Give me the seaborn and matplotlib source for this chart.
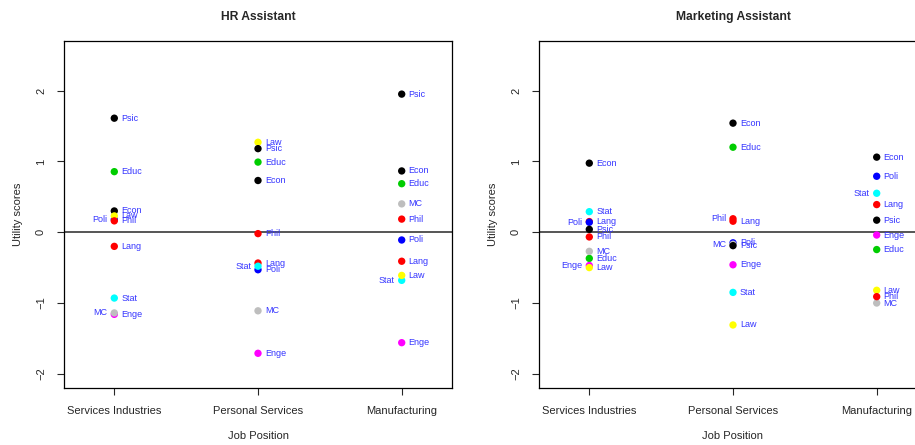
import pandas as pd
import matplotlib
matplotlib.use("Agg")
import matplotlib.pyplot as plt
import seaborn as sns

# job positions (x axis) and attributes (one point each)
jobs = ["Services Industries", "Personal Services", "Manufacturing"]
attrs = ["Econ", "Lang", "Educ", "Poli", "Stat", "Enge", "Law", "MC", "Psic", "Phil"]

# utility scores, same order as attrs
hr_services = [0.30, -0.20, 0.855, 0.18, -0.93, -1.16, 0.23, -1.14, 1.61, 0.16]
hr_personal = [0.73, -0.435, 0.99, -0.53, -0.48, -1.71, 1.27, -1.11, 1.18, -0.02]
hr_manufacturing = [0.865, -0.41, 0.685, -0.11, -0.68, -1.56, -0.61, 0.40, 1.95, 0.185]

mk_services = [0.975, 0.15, -0.37, 0.14, 0.29, -0.47, -0.50, -0.27, 0.04, -0.067]
mk_personal = [1.54, 0.155, 1.20, -0.15, -0.85, -0.46, -1.31, -0.17, -0.19, 0.19]
mk_manufacturing = [1.06, 0.39, -0.245, 0.79, 0.55, -0.04, -0.82, -1.00, 0.17, -0.91]

# R default palette, recycled
colors = ["black", "red", "#00CD00", "blue", "cyan", "magenta", "yellow", "#BEBEBE", "black", "red"]

# labels that sit on the left of their point
hr_left = {("Services Industries", "Poli"), ("Services Industries", "MC"),
           ("Personal Services", "Stat"), ("Manufacturing", "Stat")}
mk_left = {("Services Industries", "Poli"), ("Services Industries", "Enge"),
           ("Personal Services", "Phil"), ("Personal Services", "MC"),
           ("Manufacturing", "Stat")}


def make_df(cols):
    rows = []
    for job, vals in zip(jobs, cols):
        for a, v in zip(attrs, vals):
            rows.append({"job": job, "attr": a, "score": v})
    return pd.DataFrame(rows)


sns.set_style("ticks")
plt.rcParams["font.family"] = ["Liberation Sans", "DejaVu Sans"]

fig = plt.figure(figsize=(9.15, 4.45), dpi=100)
ax1 = fig.add_axes([64 / 915, 57 / 445, 388 / 915, 347 / 445])
ax2 = fig.add_axes([539 / 915, 57 / 445, 388 / 915, 347 / 445])

panels = [
    (ax1, "HR Assistant", make_df([hr_services, hr_personal, hr_manufacturing]), hr_left),
    (ax2, "Marketing Assistant", make_df([mk_services, mk_personal, mk_manufacturing]), mk_left),
]

for ax, title, df, left in panels:
    ax.axhline(0, color="#555555", lw=1.4, zorder=1)
    sns.scatterplot(data=df, x="job", y="score", hue="attr", hue_order=attrs,
                    palette=colors, s=28, linewidth=0, legend=False, ax=ax, zorder=3)
    xpos = {j: i for i, j in enumerate(jobs)}
    for _, r in df.iterrows():
        if (r["job"], r["attr"]) in left:
            ax.annotate(r["attr"], (xpos[r["job"]], r["score"]), xytext=(-5, 0),
                        textcoords="offset points", ha="right", va="center",
                        fontsize=6.5, color="#3434ff")
        else:
            ax.annotate(r["attr"], (xpos[r["job"]], r["score"]), xytext=(5, 0),
                        textcoords="offset points", ha="left", va="center",
                        fontsize=6.5, color="#3434ff")
    ax.set_xlim(-0.35, 2.35)
    ax.set_ylim(-2.2, 2.7)
    ax.set_yticks([-2, -1, 0, 1, 2])
    ax.set_yticklabels(["\u22122", "\u22121", "0", "1", "2"], rotation=90, va="center")
    ax.tick_params(axis="both", labelsize=8, length=5, width=0.8, pad=8)
    for sp in ax.spines.values():
        sp.set_visible(True)
        sp.set_linewidth(0.9)
        sp.set_color("black")
    ax.set_title(title, fontsize=8.7, fontweight="bold", pad=15)
    ax.set_xlabel("Job Position", fontsize=8, labelpad=11)
    ax.set_ylabel("Utility scores", fontsize=8, labelpad=9)

fig.savefig("out.png", dpi=100)
